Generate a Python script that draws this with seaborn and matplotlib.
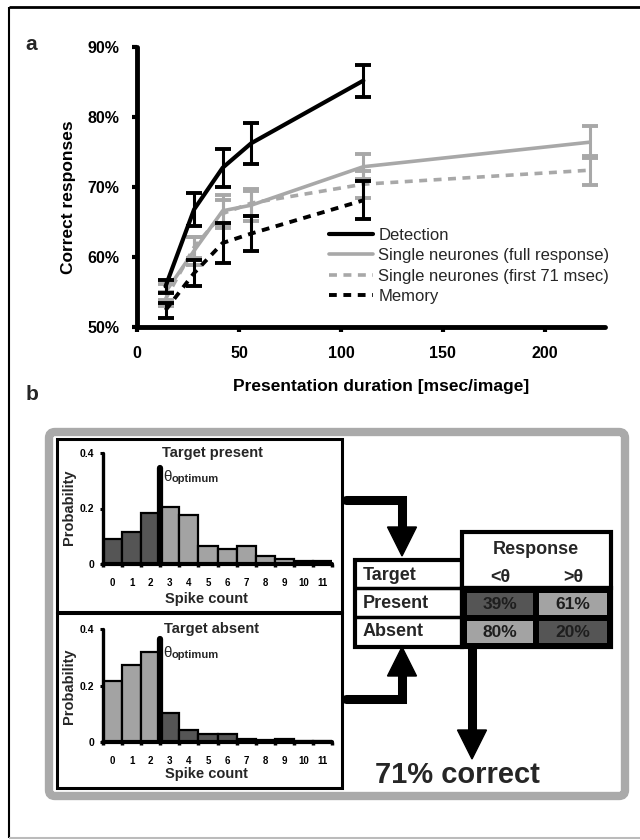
import numpy as np
import pandas as pd
import matplotlib
matplotlib.use("Agg")
import matplotlib.pyplot as plt
import seaborn as sns
from matplotlib.patches import Rectangle, Polygon, FancyBboxPatch

# ---------------- data ----------------
durations = [14, 28, 42, 56, 111]
durations_neur = [14, 28, 42, 56, 111, 222]
detection = [55.8, 66.8, 72.75, 76.25, 85.2]
detection_err = [0.9, 2.3, 2.75, 2.95, 2.3]
full_resp = [55.0, 60.9, 66.6, 67.4, 72.9, 76.4]
full_err = [1.2, 2.0, 2.3, 2.3, 1.8, 2.3]
first71 = [54.0, 61.4, 66.2, 67.7, 70.4, 72.4]
first71_err = [1.0, 1.5, 2.0, 1.8, 1.9, 2.1]
memory = [52.4, 57.7, 62.0, 63.35, 68.1]
memory_err = [1.1, 1.9, 2.8, 2.45, 2.7]
y_ticks = [50, 60, 70, 80, 90]
x_ticks = [0, 50, 100, 150, 200]

spike_bins = list(range(12))
p_present = [0.090, 0.114, 0.184, 0.204, 0.175, 0.064, 0.054, 0.064, 0.028, 0.018, 0.010, 0.010]
p_absent = [0.216, 0.273, 0.317, 0.103, 0.042, 0.030, 0.030, 0.012, 0.006, 0.012, 0.005, 0.004]
theta = 2.5
theta_top_present = 0.346
theta_top_absent = 0.365
hist_ticks = [0, 0.2, 0.4]

table_rows = ["Present", "Absent"]
table_cols = ["<θ", ">θ"]
table_values = [[39, 61], [80, 20]]
percent_correct = 71

# ---------------- style ----------------
sns.set_theme(style="white")
plt.rcParams["font.family"] = ["Liberation Sans", "DejaVu Sans"]
plt.rcParams["font.weight"] = "bold"
plt.rcParams["axes.labelweight"] = "bold"

DARK = "#555555"
LIGHT = "#a3a3a3"
LINEGRAY = "#a8a8a8"
W, H = 640, 840

fig = plt.figure(figsize=(6.4, 8.4), dpi=100)

# overlay axes in pixel coordinates for the frame, boxes, arrows and table
ov = fig.add_axes([0, 0, 1, 1], zorder=0)
ov.set_xlim(0, W)
ov.set_ylim(H, 0)
ov.axis("off")

# outer frame
ov.plot([9, W], [7, 7], color="black", lw=2, solid_capstyle="butt")
ov.plot([9, 9], [7, 838], color="black", lw=1.5, solid_capstyle="butt")
ov.plot([9, W], [838, 838], color="#bbbbbb", lw=1.5, solid_capstyle="butt")

ov.text(31, 44, "a", fontsize=15, ha="center", va="center")
ov.text(32, 394, "b", fontsize=15, ha="center", va="center")

# ---------------- panel a ----------------
ax = fig.add_axes([137 / W, 1 - 327 / H, (605 - 137) / W, 280 / H], zorder=2)
ax.patch.set_alpha(0)

sns.lineplot(x=durations_neur, y=full_resp, ax=ax, color=LINEGRAY, lw=2.6,
             label="Single neurones (full response)", errorbar=None)
sns.lineplot(x=durations_neur, y=first71, ax=ax, color=LINEGRAY, lw=2.6,
             linestyle=(0, (2.2, 1.8)), label="Single neurones (first 71 msec)", errorbar=None)
ax.errorbar(durations_neur, full_resp, yerr=full_err, fmt="none", ecolor=LINEGRAY,
            elinewidth=2.2, capsize=6, capthick=2.8)
ax.errorbar(durations_neur, first71, yerr=first71_err, fmt="none", ecolor=LINEGRAY,
            elinewidth=2.2, capsize=6, capthick=2.8)
sns.lineplot(x=durations, y=memory, ax=ax, color="black", lw=2.8,
             linestyle=(0, (2.0, 1.7)), label="Memory", errorbar=None)
ax.errorbar(durations, memory, yerr=memory_err, fmt="none", ecolor="black",
            elinewidth=2.2, capsize=6, capthick=2.8)
sns.lineplot(x=durations, y=detection, ax=ax, color="black", lw=3.0,
             label="Detection", errorbar=None)
ax.errorbar(durations, detection, yerr=detection_err, fmt="none", ecolor="black",
            elinewidth=2.2, capsize=6, capthick=2.8)

ax.set_xlim(0, 229.5)
ax.set_ylim(50, 90)
ax.set_xticks(x_ticks)
ax.set_yticks(y_ticks)
ax.set_yticklabels([f"{v}%" for v in y_ticks])
for s in ["top", "right"]:
    ax.spines[s].set_visible(False)
for s in ["left", "bottom"]:
    ax.spines[s].set_linewidth(3.5)
    ax.spines[s].set_color("black")
    ax.spines[s].set_capstyle("round")
ax.tick_params(axis="both", direction="out", length=3.5, width=3, color="black",
               labelsize=11.5, labelcolor="black", left=True, bottom=True)
ax.tick_params(axis="y", pad=9)
ax.tick_params(axis="x", pad=10)
ax.set_xlabel("Presentation duration [msec/image]", fontsize=12.5, color="black")
ax.set_ylabel("Correct responses", fontsize=12.5, color="black")
ax.xaxis.set_label_coords((381 - 137) / 468, (327 - 387) / 280)
ax.xaxis.label.set_va("center")
ax.yaxis.set_label_coords((69 - 137) / 468, (327 - 197) / 280)
ax.yaxis.label.set_va("center")

handles, labels = ax.get_legend_handles_labels()
order = ["Detection", "Single neurones (full response)", "Single neurones (first 71 msec)", "Memory"]
hmap = dict(zip(labels, handles))
ax.legend([hmap[k] for k in order], order, loc="upper left",
          bbox_to_anchor=(329 / W, 1 - 228 / H), bbox_transform=fig.transFigure,
          frameon=False, borderpad=0, borderaxespad=0, handlelength=2.65,
          handletextpad=0.3, labelspacing=0.32,
          prop={"family": "Liberation Sans", "weight": "normal", "size": 12})

# ---------------- panel b : frame ----------------
ov.add_patch(FancyBboxPatch((49, 432), 576, 364, boxstyle="round,pad=0,rounding_size=6",
                            ec="#aaaaaa", lw=6, fc="white", zorder=1))
ov.add_patch(Rectangle((57, 439), 285, 173, fc="white", ec="black", lw=2.2, zorder=2))
ov.add_patch(Rectangle((57, 613), 285, 175, fc="white", ec="black", lw=2.2, zorder=2))


def histogram(rect, probs, dark_upper, title, theta_top, title_y, ylab_y, xlab_y, th_y):
    axh = fig.add_axes(rect, zorder=3)
    axh.patch.set_alpha(0)
    labels_ = [str(b) for b in spike_bins]
    shade = {}
    for b in spike_bins:
        upper = b > theta
        shade[str(b)] = DARK if (upper == dark_upper) else LIGHT
    df = pd.DataFrame({"bin": labels_, "p": probs})
    sns.barplot(data=df, x="bin", y="p", hue="bin", palette=shade, width=1.0,
                edgecolor="black", linewidth=1.6, legend=False, ax=axh, order=labels_)
    axh.plot([theta, theta], [0, theta_top], color="black", lw=4.5,
             solid_capstyle="round", zorder=5)
    axh.set_xlim(-0.5, 11.5)
    axh.set_ylim(0, 0.4)
    for s in ["top", "right"]:
        axh.spines[s].set_visible(False)
    axh.spines["left"].set_linewidth(2.4)
    axh.spines["bottom"].set_linewidth(3.0)
    for s in ["left", "bottom"]:
        axh.spines[s].set_color("black")
        axh.spines[s].set_capstyle("round")
    axh.set_xticks(spike_bins)
    axh.set_xticklabels(labels_)
    axh.set_xticks([b - 0.5 for b in spike_bins] + [11.5], minor=True)
    axh.tick_params(axis="x", which="major", length=0, pad=10, labelsize=7,
                    labelcolor="black", bottom=True)
    axh.tick_params(axis="x", which="minor", direction="out", length=2.5, width=2.5,
                    color="black", bottom=True)
    axh.set_yticks(hist_ticks)
    axh.set_yticklabels(["0", "0.2", "0.4"])
    axh.tick_params(axis="y", direction="out", length=2.5, width=2.2, pad=4,
                    labelsize=7.5, color="black", labelcolor="black", left=True)
    axh.set_xlabel("")
    axh.set_ylabel("")
    ov.text(212, title_y, title, fontsize=10.5, ha="center", va="center", zorder=6)
    ov.text(69, ylab_y, "Probability", fontsize=10.5, rotation=90, ha="center", va="center", zorder=6)
    ov.text(206, xlab_y, "Spike count", fontsize=10.5, ha="center", va="center", zorder=6)
    ov.text(163, th_y, "θ", fontsize=11, fontweight="normal", ha="left", va="baseline", zorder=6)
    ov.text(171.5, th_y + 1.5, "optimum", fontsize=8, ha="left", va="baseline", zorder=6)
    return axh


histogram([103 / W, 1 - 564 / H, 229 / W, 111 / H], p_present, False,
          "Target present", theta_top_present, 453, 507, 599, 481)
histogram([103 / W, 1 - 742 / H, 229 / W, 113 / H], p_absent, True,
          "Target absent", theta_top_absent, 629, 686, 774, 657)

# ---------------- arrows ----------------
ALW = 6.5
ov.plot([346, 402, 402], [500, 500, 529], color="black", lw=ALW,
        solid_capstyle="round", solid_joinstyle="miter", zorder=4)
ov.add_patch(Polygon([(387.5, 527), (416.5, 527), (402, 556)], closed=True, fc="black", ec="black", zorder=4))
ov.plot([346, 402, 402], [699, 699, 674], color="black", lw=ALW,
        solid_capstyle="round", solid_joinstyle="miter", zorder=4)
ov.add_patch(Polygon([(387.5, 676), (416.5, 676), (402, 647)], closed=True, fc="black", ec="black", zorder=4))
ov.plot([472, 472], [647, 732], color="black", lw=ALW, solid_capstyle="butt", zorder=4)
ov.add_patch(Polygon([(457.5, 730), (486.5, 730), (472, 759)], closed=True, fc="black", ec="black", zorder=4))

# ---------------- table ----------------
TLW = 3
ov.add_patch(Rectangle((355, 560), 107, 87, fc="white", ec="black", lw=TLW, zorder=5))
ov.plot([355, 462], [588, 588], color="black", lw=2.5, zorder=6)
ov.plot([355, 462], [617, 617], color="black", lw=2.5, zorder=6)
ov.add_patch(Rectangle((462, 532), 149, 56, fc="white", ec="black", lw=TLW, zorder=5))
ov.add_patch(Rectangle((462, 588), 149, 59, fc="black", ec="black", lw=TLW, zorder=5))

ov.text(363, 575, "Target", fontsize=13, ha="left", va="center", zorder=7)
ov.text(536, 549, "Response", fontsize=13, ha="center", va="center", zorder=7)
col_x0 = [467, 539]
col_w = [66, 68]
row_y0 = [593, 621]
row_h = [22, 22]
row_text_y = [604, 632]
for i, rname in enumerate(table_rows):
    ov.text(363, row_text_y[i], rname, fontsize=13, ha="left", va="center", zorder=7)
    for j, cname in enumerate(table_cols):
        correct = (i == 0 and j == 1) or (i == 1 and j == 0)
        ov.add_patch(Rectangle((col_x0[j], row_y0[i]), col_w[j], row_h[i],
                               fc=LIGHT if correct else DARK, ec="none", zorder=6))
        ov.text(col_x0[j] + col_w[j] / 2, row_y0[i] + row_h[i] / 2 + 0.5,
                f"{table_values[i][j]}%", fontsize=12.5, color="#1e1e1e",
                ha="center", va="center", zorder=7)
for j, cname in enumerate(table_cols):
    ov.text(col_x0[j] + col_w[j] / 2, 577, cname, fontsize=13, ha="center", va="center", zorder=7)

ov.text(457, 775, f"{percent_correct}% correct", fontsize=21, ha="center", va="center", zorder=7)

fig.savefig("out.png", dpi=100)
